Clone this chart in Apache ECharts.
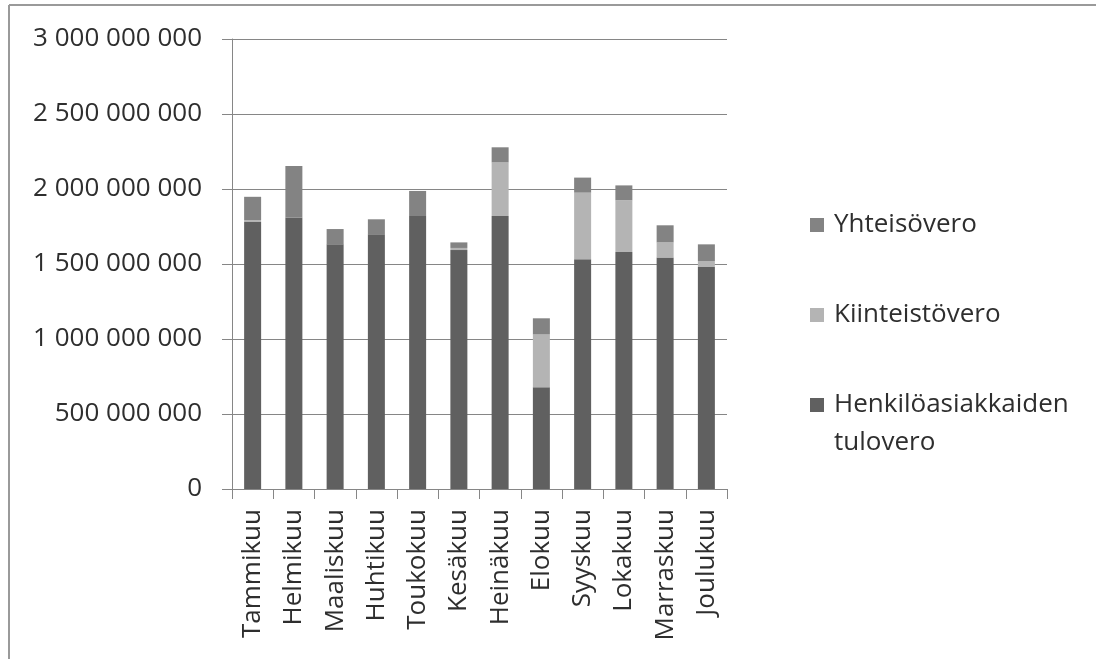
<!DOCTYPE html>
<html>
<head>
<meta charset="utf-8">
<script src="https://cdn.jsdelivr.net/npm/echarts@6/dist/echarts.min.js"></script>
<style>
html,body{margin:0;padding:0;background:#fff;}
#c{width:1096px;height:659px;}
</style>
</head>
<body>
<div id="c"></div>
<script>
var categories = ['Tammikuu','Helmikuu','Maaliskuu','Huhtikuu','Toukokuu','Kesäkuu','Heinäkuu','Elokuu','Syyskuu','Lokakuu','Marraskuu','Joulukuu'];
var henkilo = [1780e6, 1809e6, 1631e6, 1698e6, 1820e6, 1593e6, 1820e6, 678e6, 1531e6, 1580e6, 1544e6, 1480e6];
var kiinteisto = [12e6, 0, 0, 0, 0, 14e6, 358e6, 353e6, 445e6, 344e6, 100e6, 40e6];
var yhteiso = [156e6, 344e6, 102e6, 100e6, 167e6, 37e6, 100e6, 107e6, 100e6, 100e6, 114e6, 111e6];
var yTicks = [0, 500e6, 1000e6, 1500e6, 2000e6, 2500e6, 3000e6];

var colors = { henk: '#606060', kiint: '#b4b4b4', yht: '#838383' };
var FONT = '"Open Sans", sans-serif';
var FS = 26;

function fmt(v) {
  return String(Math.round(v)).replace(/\B(?=(\d{3})+(?!\d))/g, ' ');
}

var chart = echarts.init(document.getElementById('c'), null, { renderer: 'canvas' });
chart.setOption({
  animation: false,
  backgroundColor: '#ffffff',
  graphic: [
    { type: 'line', shape: { x1: 9, y1: 5, x2: 1096, y2: 5 }, style: { stroke: '#9a9a9a', lineWidth: 2 } },
    { type: 'line', shape: { x1: 9, y1: 5, x2: 9, y2: 659 }, style: { stroke: '#9a9a9a', lineWidth: 2 } }
  ],
  grid: { left: 232, right: 369, top: 39, bottom: 170, containLabel: false },
  legend: {
    orient: 'vertical',
    left: 800,
    top: 201,
    itemWidth: 0,
    itemHeight: 0,
    itemGap: 52,
    selectedMode: false,
    data: ['Yhteisövero', 'Kiinteistövero', 'Henkilöasiakkaiden tulovero'],
    formatter: function (name) {
      if (name === 'Yhteisövero') return '{a|}{t|Yhteisövero}';
      if (name === 'Kiinteistövero') return '{b|}{t|Kiinteistövero}';
      return '{c|}{t|Henkilöasiakkaiden}\n{s|}{t|tulovero}';
    },
    textStyle: {
      fontFamily: FONT,
      fontSize: FS,
      color: '#2e2e2e',
      lineHeight: 38,
      rich: {
        a: { width: 14, height: 14, backgroundColor: colors.yht },
        b: { width: 14, height: 14, backgroundColor: colors.kiint },
        c: { width: 14, height: 14, backgroundColor: colors.henk },
        s: { width: 14, height: 14 },
        t: { fontFamily: FONT, fontSize: FS, color: '#2e2e2e', padding: [0, 0, 0, 10], lineHeight: 38 }
      }
    }
  },
  xAxis: {
    type: 'category',
    data: categories,
    axisLine: { lineStyle: { color: '#868686', width: 1 } },
    axisTick: { show: true, alignWithLabel: false, length: 10, lineStyle: { color: '#868686' } },
    axisLabel: { rotate: 90, margin: 20, fontFamily: FONT, fontSize: FS, color: '#2e2e2e', interval: 0 },
    splitLine: { show: false }
  },
  yAxis: {
    type: 'value',
    min: 0,
    max: 3000e6,
    interval: 500e6,
    axisLine: { show: true, lineStyle: { color: '#868686', width: 1 } },
    axisTick: { show: true, length: 10, lineStyle: { color: '#868686' } },
    axisLabel: {
      margin: 30,
      fontFamily: FONT,
      fontSize: FS,
      color: '#2e2e2e',
      formatter: function (v) { return yTicks.indexOf(v) >= 0 ? fmt(v) : ''; }
    },
    splitLine: { show: true, lineStyle: { color: '#868686', width: 1 } }
  },
  series: [
    { name: 'Henkilöasiakkaiden tulovero', type: 'bar', stack: 'vero', barWidth: 17, data: henkilo, itemStyle: { color: colors.henk } },
    { name: 'Kiinteistövero', type: 'bar', stack: 'vero', barWidth: 17, data: kiinteisto, itemStyle: { color: colors.kiint } },
    { name: 'Yhteisövero', type: 'bar', stack: 'vero', barWidth: 17, data: yhteiso, itemStyle: { color: colors.yht } }
  ]
});
</script>
</body>
</html>
